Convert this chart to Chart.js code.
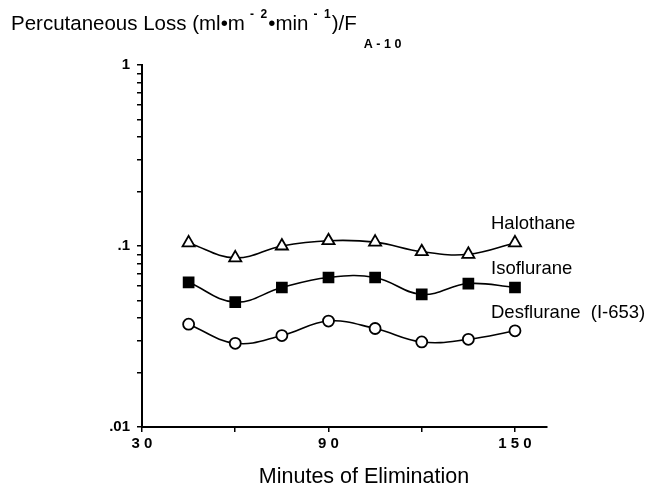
<!DOCTYPE html>
<html>
<head>
<meta charset="utf-8">
<script src="https://cdn.jsdelivr.net/npm/chart.js@4.4.1/dist/chart.umd.min.js"></script>
<style>
  html, body { margin: 0; padding: 0; background: #fff; }
  #wrap { width: 652px; height: 488px; position: relative; }
</style>
</head>
<body>
<div id="wrap"><canvas id="c" width="652" height="488"></canvas></div>
<script>
const minutes = [45, 60, 75, 90, 105, 120, 135, 150];
const halothane = [0.104, 0.086, 0.100, 0.107, 0.105, 0.093, 0.090, 0.104];
const isoflurane = [0.063, 0.049, 0.059, 0.067, 0.067, 0.054, 0.062, 0.059];
const desflurane = [0.037, 0.029, 0.032, 0.0385, 0.035, 0.0295, 0.0305, 0.034];
const seriesNames = ['Halothane', 'Isoflurane', 'Desflurane  (I-653)'];
const xTicks = [30, 60, 90, 120, 150];
const xTickLabels = {30: '3 0', 90: '9 0', 150: '1 5 0'};
const yTicks = [0.01, 0.02, 0.03, 0.04, 0.05, 0.06, 0.07, 0.08, 0.09,
                0.1, 0.2, 0.3, 0.4, 0.5, 0.6, 0.7, 0.8, 0.9, 1];
const yTickLabels = {0.01: '.01', 0.1: '.1', 1: '1'};
const xTitle = 'Minutes of Elimination';

const FONT = '"Liberation Sans", Arial, Helvetica, sans-serif';

function pts(arr) { return minutes.map((m, i) => ({x: m, y: arr[i]})); }

const textPlugin = {
  id: 'texts',
  afterDraw(chart) {
    const ctx = chart.ctx;
    ctx.save();
    ctx.fillStyle = '#000';
    ctx.textBaseline = 'alphabetic';
    ctx.textAlign = 'left';
    let x = 11;
    const base = 30;
    const parts = [
      {t: 'Percutaneous Loss (ml\u2022m', f: '20.5px ' + FONT, dy: 0, gap: 5},
      {t: '-  2', f: 'bold 12px ' + FONT, dy: -12, gap: 1},
      {t: '\u2022min', f: '20.5px ' + FONT, dy: 0, gap: 5},
      {t: '-  1', f: 'bold 12px ' + FONT, dy: -12, gap: 1},
      {t: ')/F', f: '20.5px ' + FONT, dy: 0, gap: 7},
      {t: 'A - 1 0', f: 'bold 12.5px ' + FONT, dy: 18, gap: 0}
    ];
    parts.forEach(p => {
      ctx.font = p.f;
      ctx.fillText(p.t, x, base + p.dy);
      x += ctx.measureText(p.t).width + p.gap;
    });
    ctx.font = '18.5px ' + FONT;
    const lx = 491;
    ctx.fillText(seriesNames[0], lx, 229);
    ctx.fillText(seriesNames[1], lx, 274);
    ctx.fillText(seriesNames[2], lx, 318);
    ctx.font = '21.5px ' + FONT;
    ctx.textAlign = 'center';
    ctx.fillText(xTitle, 364, 483);
    ctx.restore();
  }
};

const common = {
  borderColor: '#000',
  borderWidth: 1.6,
  tension: 0.4,
  pointBorderColor: '#000',
  pointBorderWidth: 1.8,
  fill: false
};

new Chart(document.getElementById('c'), {
  type: 'line',
  data: {
    datasets: [
      Object.assign({}, common, {label: seriesNames[0], data: pts(halothane), pointStyle: 'triangle', pointRadius: 7, pointBackgroundColor: '#fff'}),
      Object.assign({}, common, {label: seriesNames[1], data: pts(isoflurane), pointStyle: 'rect', pointRadius: 7, pointBackgroundColor: '#000'}),
      Object.assign({}, common, {label: seriesNames[2], data: pts(desflurane), pointStyle: 'circle', pointRadius: 5.5, pointBackgroundColor: '#fff'})
    ]
  },
  options: {
    responsive: false,
    animation: false,
    events: [],
    layout: {padding: {left: 0, top: 65, right: 105, bottom: 0}},
    plugins: {legend: {display: false}, tooltip: {enabled: false}, title: {display: false}},
    scales: {
      x: {
        type: 'linear',
        min: 30,
        max: 160.3,
        afterFit(s) { s.height = 61; },
        afterBuildTicks(s) { s.ticks = xTicks.map(v => ({value: v})); },
        border: {display: true, color: '#000', width: 2},
        grid: {drawOnChartArea: false, tickLength: 5, color: '#000', lineWidth: 1.5},
        ticks: {
          autoSkip: false,
          maxRotation: 0,
          padding: 3,
          color: '#000',
          font: {family: FONT, size: 15, weight: 'bold'},
          callback: v => xTickLabels[v] || ''
        }
      },
      y: {
        type: 'logarithmic',
        min: 0.01,
        max: 1,
        afterFit(s) { s.width = 142; },
        afterBuildTicks(s) { s.ticks = yTicks.map(v => ({value: v, major: v in yTickLabels})); },
        border: {display: true, color: '#000', width: 2},
        grid: {drawOnChartArea: false, tickLength: 5, color: '#000', lineWidth: 1.5},
        ticks: {
          autoSkip: false,
          padding: 7,
          color: '#000',
          font: {family: FONT, size: 15, weight: 'bold'},
          callback: v => {
            const k = Object.keys(yTickLabels).find(key => Math.abs(parseFloat(key) - v) < 1e-9);
            return k !== undefined ? yTickLabels[k] : '';
          }
        }
      }
    }
  },
  plugins: [textPlugin]
});
</script>
</body>
</html>
